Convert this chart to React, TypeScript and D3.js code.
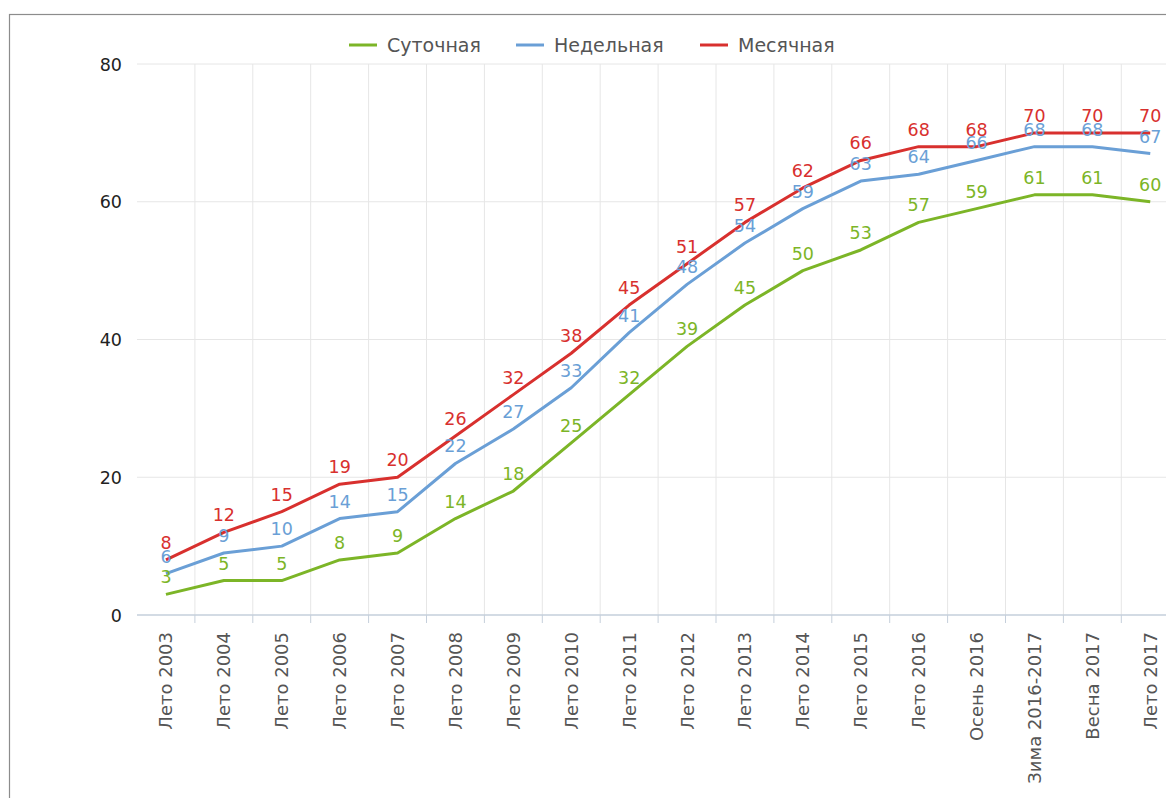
import React from "react";
import * as d3 from "d3";

const categories = [
  "Лето 2003", "Лето 2004", "Лето 2005", "Лето 2006", "Лето 2007", "Лето 2008",
  "Лето 2009", "Лето 2010", "Лето 2011", "Лето 2012", "Лето 2013", "Лето 2014",
  "Лето 2015", "Лето 2016", "Осень 2016", "Зима 2016-2017", "Весна 2017", "Лето 2017",
];
const daily = [3, 5, 5, 8, 9, 14, 18, 25, 32, 39, 45, 50, 53, 57, 59, 61, 61, 60];
const weekly = [6, 9, 10, 14, 15, 22, 27, 33, 41, 48, 54, 59, 63, 64, 66, 68, 68, 67];
const monthly = [8, 12, 15, 19, 20, 26, 32, 38, 45, 51, 57, 62, 66, 68, 68, 70, 70, 70];
const yTicks = [0, 20, 40, 60, 80];

const seriesNames = ["Суточная", "Недельная", "Месячная"];
const seriesColors = ["#7cb527", "#6a9fd6", "#d8302e"];
const seriesValues = [daily, weekly, monthly];

const W = 1166;
const H = 798;
const FONT = "'DejaVu Sans', Verdana, sans-serif";

export default function App() {
  const left = 137;
  const band = 57.9;
  const x = d3
    .scaleBand<string>()
    .domain(categories)
    .range([left, left + band * categories.length])
    .paddingInner(0)
    .paddingOuter(0);
  const y = d3.scaleLinear().domain([0, 80]).range([615, 64]);
  const cx = (c: string) => (x(c) as number) + x.bandwidth() / 2;

  const line = d3
    .line<number>()
    .x((_, i) => cx(categories[i]))
    .y((v) => y(v))
    .curve(d3.curveLinear);

  const [x0, x1] = x.range();
  const boundaries = categories.slice(1).map((c) => x(c) as number);
  const legendX = [349, 516, 700];

  return (
    <svg
      width={W}
      height={H}
      style={{ position: "absolute", left: 0, top: 0, background: "#fff" }}
      fontFamily={FONT}
    >
      <rect x={9.5} y={14.5} width={1300} height={1000} fill="#fff" stroke="#8c8c8c" strokeWidth={1.2} />

      {/* horizontal grid */}
      {yTicks.filter((t) => t !== 0).map((t) => (
        <line key={"h" + t} x1={x0} x2={x1} y1={y(t)} y2={y(t)} stroke="#e6e6e6" strokeWidth={1} />
      ))}
      {/* vertical grid */}
      {boundaries.map((bx, i) => (
        <line key={"v" + i} x1={bx} x2={bx} y1={y(80)} y2={y(0)} stroke="#e6e6e6" strokeWidth={1} />
      ))}
      {/* x axis */}
      <line x1={x0} x2={x1} y1={y(0)} y2={y(0)} stroke="#c5cfdb" strokeWidth={1.5} />
      {boundaries.map((bx, i) => (
        <line key={"t" + i} x1={bx} x2={bx} y1={y(0)} y2={y(0) + 8} stroke="#c5cfdb" strokeWidth={1} />
      ))}

      {/* y labels */}
      {yTicks.map((t) => (
        <text key={"y" + t} x={122} y={y(t)} dy="0.38em" textAnchor="end" fontSize={17.5} fill="#222">
          {t}
        </text>
      ))}

      {/* x labels */}
      {categories.map((c) => (
        <text
          key={c}
          transform={`translate(${cx(c)},632) rotate(-90)`}
          dy="0.36em"
          textAnchor="end"
          fontSize={18}
          fill="#555"
        >
          {c}
        </text>
      ))}

      {/* series lines */}
      {seriesValues.map((vals, si) => (
        <path
          key={"s" + si}
          d={line(vals) as string}
          fill="none"
          stroke={seriesColors[si]}
          strokeWidth={3}
          strokeLinejoin="round"
        />
      ))}

      {/* data labels */}
      {seriesValues.map((vals, si) =>
        vals.map((v, i) => (
          <text
            key={"l" + si + "-" + i}
            x={cx(categories[i])}
            y={y(v) - 11}
            textAnchor="middle"
            fontSize={17.5}
            fill={seriesColors[si]}
          >
            {v}
          </text>
        ))
      )}

      {/* legend */}
      {seriesNames.map((n, i) => (
        <g key={n} transform={`translate(${legendX[i]},45)`}>
          <line x1={0} x2={28} y1={0} y2={0} stroke={seriesColors[i]} strokeWidth={3} />
          <text x={38} y={0} dy="0.36em" fontSize={19} fill="#555">
            {n}
          </text>
        </g>
      ))}
    </svg>
  );
}
